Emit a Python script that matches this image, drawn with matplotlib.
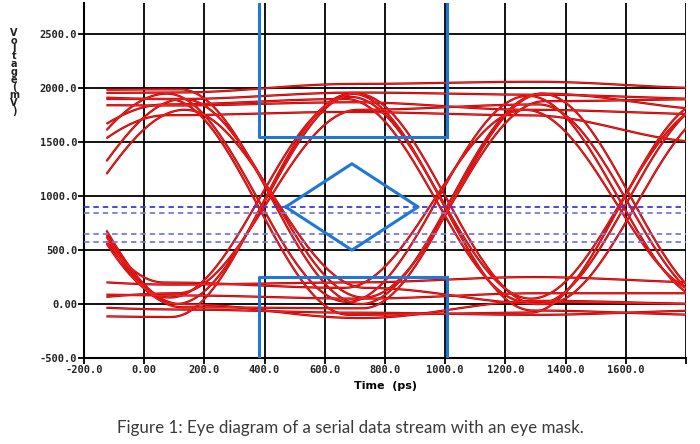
import numpy as np
import matplotlib
matplotlib.use("Agg")
import matplotlib.pyplot as plt

# ---------------- data ----------------
bit_centers = [-500, 100, 700, 1300, 1900]   # ps, centre of each unit interval
unit_interval = 600                           # ps
t_start, t_end = -125, 1800

# voltage (mV) of each trace at the bit centres, and its timing offset (ps)
trace_levels = [
    [1950, 1960, 2040, 2060, 2000],
    [1900, 1900, 1960, 1940, 1900],
    [1850, 1840, 1870, 1800, 1760],
    [1980, 1990, 0, 1950, 0],
    [600, 1950, 20, 1930, 40],
    [400, 1900, 60, 1880, 1900],
    [1900, 60, 1920, 50, 1850],
    [1950, 0, 1950, 0, 1900],
    [1100, 1850, 1900, 20, 0],
    [0, -50, -80, -100, -60],
    [100, 80, 50, 100, 100],
    [250, 180, 200, 250, 200],
    [1800, -30, -40, 1950, 1800],
    [1950, 1900, -100, -80, 1900],
    [0, 100, 1800, 1850, 0],
    [1850, 200, 150, 1800, 100],
    [300, 1800, 150, 0, 1850],
    [-100, -120, 1950, -60, -100],
    [1900, 0, -130, 30, 0],
    [900, 1750, 1780, 1750, 1500],
]
trace_shift = [0, 10, -10, 20, -25, 30, -15, 5, -30, 0,
               15, -5, 25, -20, 10, -35, 35, -10, 20, -25]

mask_top = {"x": [380, 380, 1005, 1005], "y": [2790, 1550, 1550, 2790]}
mask_bottom = {"x": [380, 380, 1005, 1005], "y": [-500, 250, 250, -500]}
mask_diamond = {"x": [470, 690, 910, 690, 470], "y": [900, 1300, 900, 500, 900]}
threshold_levels = [900, 840, 650, 575]

x_ticks = [-200, 0, 200, 400, 600, 800, 1000, 1200, 1400, 1600, 1800]
x_labels = ["-200.0", "0.00", "200.0", "400.0", "600.0", "800.0",
            "1000.0", "1200.0", "1400.0", "1600.0", ""]
y_ticks = [-500, 0, 500, 1000, 1500, 2000, 2500]
y_labels = ["-500.0", "0.00", "500.0", "1000.0", "1500.0", "2000.0", "2500.0"]

# ---------------- figure ----------------
fig = plt.figure(figsize=(7.0, 4.44), dpi=100)
ax = fig.add_axes([84 / 700, 1 - 358 / 444, (686 - 84) / 700, (358 - 3) / 444])
ax.set_xlim(-200, 1800)
ax.set_ylim(-500, 2790)


def waveform(levels, shift):
    t = np.linspace(t_start, t_end, 800)
    tc = np.array(bit_centers, dtype=float) + shift
    v = np.empty_like(t)
    for i in range(len(tc) - 1):
        m = (t >= tc[i]) & (t <= tc[i + 1])
        ph = (t[m] - tc[i]) / unit_interval
        v[m] = levels[i] + (levels[i + 1] - levels[i]) * (1 - np.cos(np.pi * ph)) / 2
    return t, v


for lev, sh in zip(trace_levels, trace_shift):
    t, v = waveform(lev, sh)
    ax.plot(t, v, color="#a80000", lw=1.6, zorder=3, solid_capstyle="butt")
    ax.plot(t, v, color="#ff2020", lw=0.7, zorder=3.1)

# threshold dashed lines
for i, lv in enumerate(threshold_levels):
    col = "#3a3ae0" if i == 0 else "#7a7ae0"
    ax.axhline(lv, color=col, lw=1.3, dashes=(3, 2.2), zorder=4)

# eye mask
mcol = "#1f77d8"
ax.plot(mask_top["x"][:3], mask_top["y"][:3], color=mcol, lw=2.2, zorder=5)
ax.plot(mask_top["x"][2:], mask_top["y"][2:], color=mcol, lw=2.2, zorder=5)
ax.plot(mask_bottom["x"][:3], mask_bottom["y"][:3], color=mcol, lw=2.2, zorder=5)
ax.plot(mask_bottom["x"][2:], mask_bottom["y"][2:], color=mcol, lw=2.2, zorder=5)
ax.plot(mask_diamond["x"], mask_diamond["y"], color=mcol, lw=2.2, zorder=5)

# grid and axes
ax.set_xticks(x_ticks)
ax.set_xticklabels(x_labels)
ax.set_yticks(y_ticks)
ax.set_yticklabels(y_labels)
ax.grid(True, color="black", lw=1.3)
ax.set_axisbelow(True)
for s in ["top", "right"]:
    ax.spines[s].set_visible(False)
for s in ["left", "bottom"]:
    ax.spines[s].set_linewidth(1.5)
ax.tick_params(length=4, width=1.3, pad=1, colors="black")
for lab in ax.get_xticklabels() + ax.get_yticklabels():
    lab.set_fontfamily("DejaVu Sans Mono")
    lab.set_fontweight("bold")
    lab.set_fontsize(7.5)
    lab.set_color("#222222")

ax.set_xlabel("Time  (ps)", fontfamily="DejaVu Sans", fontweight="bold",
              fontsize=8, labelpad=4)

fig.text(14 / 700, 1 - 28 / 444, "V\no\nl\nt\na\ng\ne\n(\nm\nV\n)",
         fontfamily="DejaVu Sans", fontweight="bold", fontsize=7,
         linespacing=0.72, ha="center", va="top", color="#222222")

fig.text(0.5, 1 - 428 / 444, "Figure 1: Eye diagram of a serial data stream with an eye mask.",
         fontfamily="Lato", fontsize=12.2, ha="center", va="center", color="#3a3a3a")

fig.savefig("out.png", dpi=100, facecolor="white")
